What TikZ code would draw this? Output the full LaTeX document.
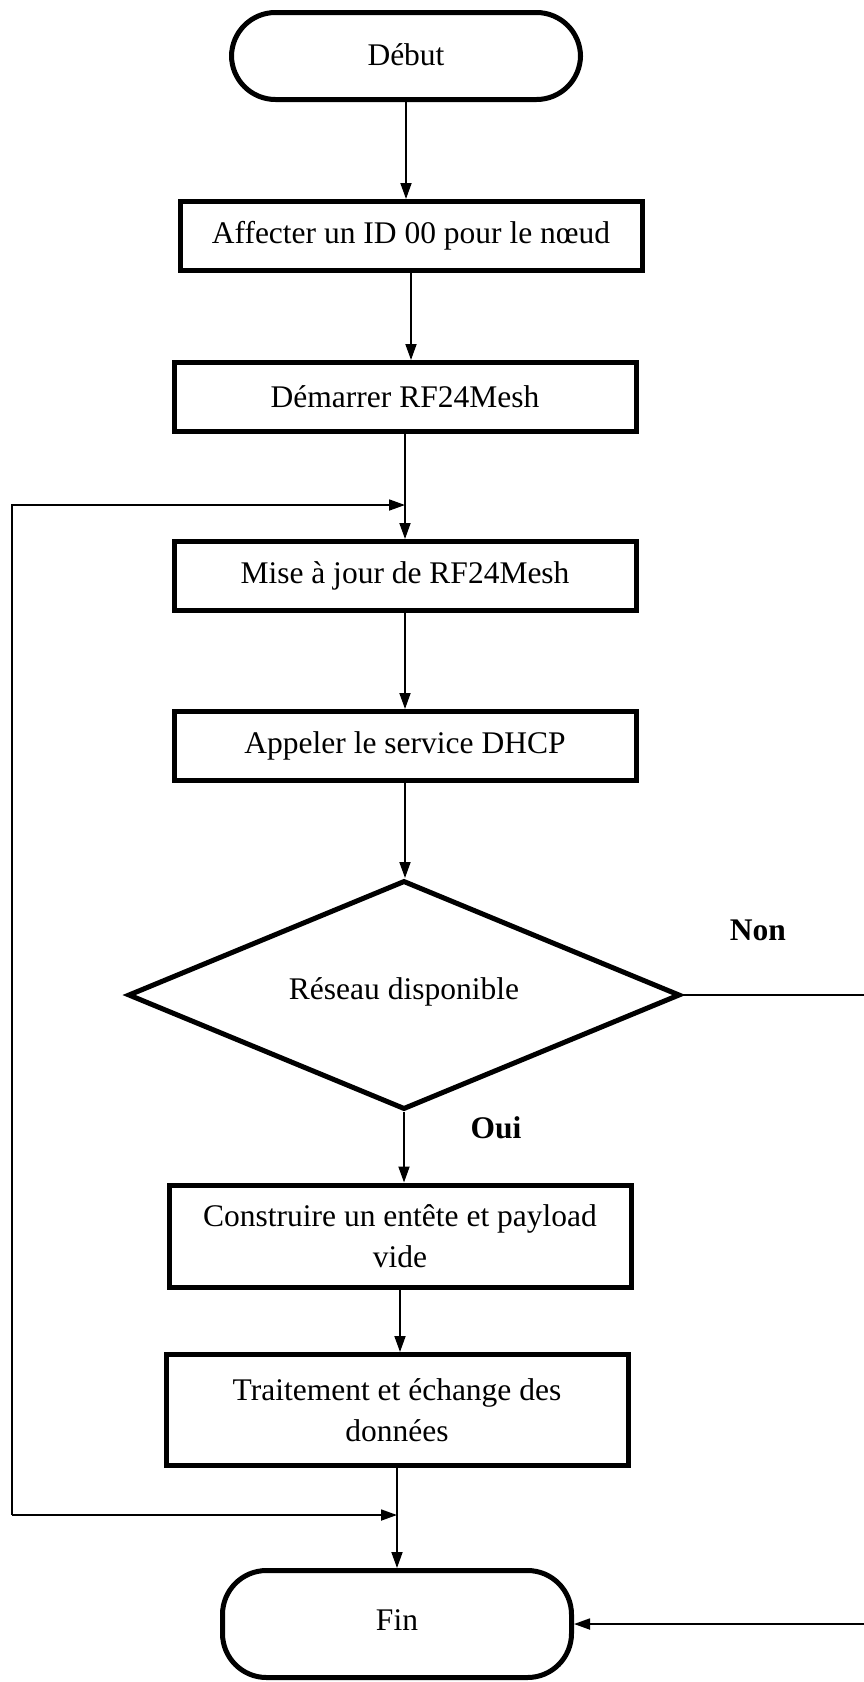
\documentclass[tikz,border=0pt]{standalone}
\usepackage{fontspec}
\setmainfont{Liberation Serif}
\usetikzlibrary{shapes.geometric,arrows.meta}

\begin{document}
\begin{tikzpicture}
  [x=1pt,y=-1pt,line width=1.8pt,>={Triangle[length=16pt,width=11pt]},
   every node/.style={font=\fontsize{31.5}{41}\selectfont,align=center,inner sep=0pt},
   box/.style={draw,line width=5pt,minimum width=462pt},
   term/.style={draw,line width=5pt,rounded corners=44pt,minimum width=349pt},
   cond/.style={draw,diamond,line width=5pt,aspect=2.4,minimum width=552pt,minimum height=229pt},
   lbl/.style={font=\fontsize{31.5}{41}\selectfont\bfseries}]
  \useasboundingbox (0,0) rectangle (864,1682);
  \node[term,minimum height=87pt] (n1) at (406,56) {\raisebox{3pt}{Début}};
  \node[box,minimum height=69pt] (n2) at (411,236) {Affecter un ID 00 pour le nœud};
  \node[box,minimum height=69pt] (n3) at (405,397) {Démarrer RF24Mesh};
  \node[box,minimum height=69pt] (n4) at (405,576) {Mise à jour de RF24Mesh};
  \node[box,minimum height=69pt] (n5) at (405,746) {Appeler le service DHCP};
  \node[cond] (n6) at (404,995) {\raisebox{12pt}{Réseau disponible}};
  \node[box,minimum height=102pt] (n7) at (400,1236) {Construire un entête et payload\\vide};
  \node[box,minimum height=111pt] (n8) at (397,1410) {Traitement et échange des\\données};
  \node[term,minimum height=107pt] (n9) at (397,1624) {\raisebox{7pt}{Fin}};
  \node[lbl] (non) at (758,930) {Non};
  \node[lbl] (oui) at (496,1128) {Oui};

  \coordinate (j1) at (405,505);
  \coordinate (j2) at (397,1515);
  \coordinate (l1) at (12,505);
  \coordinate (l2) at (12,1515);
  \coordinate (r1) at (872,995);

   \foreach \from/\to in {n1/n2,n2/n3,n3/n4,n4/n5,n5/n6,n6/n7,n7/n8,n8/n9}
    \draw[->] (\from.south) -- (\from.south |- \to.north);
   \draw[->] (l2) -- (l1) -- (j1);
   \draw[->] (l2) -- (j2);
   \draw[->] (n6.east) -- (r1) |- (n9.east);
    \end{tikzpicture}
\end{document}
